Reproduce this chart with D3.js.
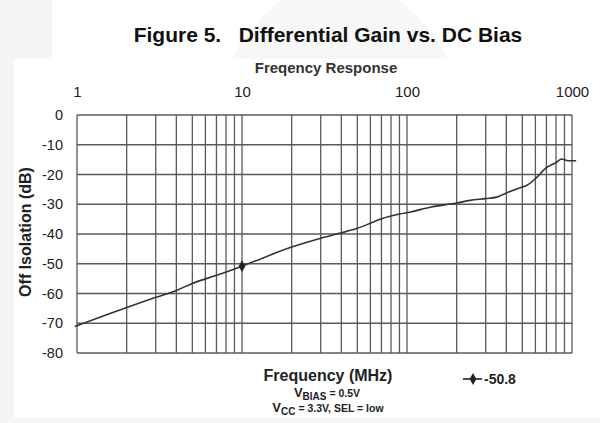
<!DOCTYPE html>
<html>
<head>
<meta charset="utf-8">
<script src="https://cdn.jsdelivr.net/npm/d3@7"></script>
<style>
  body { margin: 0; background: #fff; }
  svg { display: block; font-family: "Liberation Sans", Arial, sans-serif; }
</style>
</head>
<body>
<svg id="chart" width="600" height="423"></svg>
<script>
// measured curve (MHz, dB)
const freqs = [0.97, 2, 3, 4, 5, 7, 10, 20, 30, 40, 50, 60, 70, 90, 105, 138, 200, 241, 300, 350, 400, 500, 531, 600, 700, 800, 866, 900, 950, 1000, 1060];
const isolation = [-71.1, -64.7, -61.3, -59.0, -56.6, -53.9, -50.8, -44.4, -41.4, -39.6, -38.1, -36.4, -34.9, -33.3, -32.6, -31.0, -29.6, -28.7, -28.1, -27.6, -26.2, -24.2, -23.7, -21.4, -17.7, -16.0, -14.8, -15.0, -15.4, -15.4, -15.4];
const marker = { f: 10, v: -50.8 };
const freqTicks = [1, 10, 100, 1000];
const dbTicks = [-80, -70, -60, -50, -40, -30, -20, -10, 0];
const decades = [1, 10, 100];
const mults = [1, 2, 3, 4, 5, 6, 7, 8, 9];

const svg = d3.select('#chart');
const font = '"Liberation Sans", Arial, sans-serif';

// page background bits
svg.append('rect').attr('width', 600).attr('height', 423).attr('fill', '#f5f5f5');
svg.append('rect').attr('x', 14).attr('y', 59).attr('width', 586).attr('height', 359).attr('fill', '#fff');
svg.append('rect').attr('x', 52).attr('y', 0).attr('width', 548).attr('height', 59).attr('fill', '#fff');
svg.append('clipPath').attr('id', 'topclip').append('rect').attr('x', 52).attr('y', 0).attr('width', 548).attr('height', 59);
svg.append('ellipse').attr('cx', 340).attr('cy', 240).attr('rx', 150).attr('ry', 260)
  .attr('fill', '#f7f7f7').attr('clip-path', 'url(#topclip)');

const x = d3.scaleLog().domain([1, 1000]).range([77, 572]);
const y = d3.scaleLinear().domain([-80, 0]).range([353, 115]);

// grid
const vLines = [];
decades.forEach(d => mults.forEach(m => vLines.push(d * m)));
vLines.push(1000);

const grid = svg.append('g').attr('stroke', '#5a5a5a').attr('stroke-width', 1.3);
grid.selectAll('.v').data(vLines).enter().append('line')
  .attr('x1', d => x(d)).attr('x2', d => x(d))
  .attr('y1', y(0)).attr('y2', y(-80));
grid.selectAll('.h').data(dbTicks).enter().append('line')
  .attr('x1', x(1)).attr('x2', x(1000))
  .attr('y1', d => y(d)).attr('y2', d => y(d));

// axes
const topAxis = svg.append('g').attr('transform', `translate(0,${y(0)})`)
  .call(d3.axisTop(x).tickValues(freqTicks).tickFormat(d => String(d)).tickSize(0).tickPadding(18));
topAxis.select('.domain').remove();
topAxis.selectAll('text').attr('font-size', 15).attr('fill', '#222').attr('font-family', font);

const leftAxis = svg.append('g').attr('transform', `translate(${x(1)},0)`)
  .call(d3.axisLeft(y).tickValues(dbTicks).tickFormat(d => String(d)).tickSize(0).tickPadding(14));
leftAxis.select('.domain').remove();
leftAxis.selectAll('text').attr('font-size', 14.5).attr('fill', '#222').attr('font-family', font);

// curve
const line = d3.line()
  .x((d, i) => x(freqs[i]))
  .y(d => y(d))
  .curve(d3.curveMonotoneX);

svg.append('path').datum(isolation)
  .attr('fill', 'none').attr('stroke', '#333').attr('stroke-width', 1.6)
  .attr('d', line);

const diamond = d3.symbol().type(d3.symbolDiamond).size(40);
svg.append('path').attr('d', diamond)
  .attr('transform', `translate(${x(marker.f)},${y(marker.v)})`)
  .attr('fill', '#222');

// titles
svg.append('text').attr('x', 328).attr('y', 42).attr('text-anchor', 'middle')
  .attr('font-size', 21).attr('font-weight', 'bold').attr('fill', '#111')
  .attr('xml:space', 'preserve')
  .text('Figure 5.   Differential Gain vs. DC Bias');

svg.append('text').attr('x', 326).attr('y', 73).attr('text-anchor', 'middle')
  .attr('font-size', 15).attr('font-weight', 'bold').attr('fill', '#333')
  .text('Freqency Response');

svg.append('text').attr('transform', 'translate(31,232) rotate(-90)')
  .attr('text-anchor', 'middle').attr('font-size', 16).attr('font-weight', 'bold').attr('fill', '#222')
  .text('Off Isolation (dB)');

svg.append('text').attr('x', 328).attr('y', 381).attr('text-anchor', 'middle')
  .attr('font-size', 16).attr('font-weight', 'bold').attr('fill', '#222')
  .text('Frequency (MHz)');

const vb = svg.append('text').attr('x', 327).attr('y', 397).attr('text-anchor', 'middle')
  .attr('font-weight', 'bold').attr('fill', '#222');
vb.append('tspan').attr('font-size', 13).text('V');
vb.append('tspan').attr('font-size', 10).attr('dy', 3).text('BIAS');
vb.append('tspan').attr('font-size', 10.5).attr('dy', -3).text(' = 0.5V');

const vc = svg.append('text').attr('x', 328).attr('y', 412).attr('text-anchor', 'middle')
  .attr('font-weight', 'bold').attr('fill', '#222');
vc.append('tspan').attr('font-size', 13).text('V');
vc.append('tspan').attr('font-size', 10).attr('dy', 3).text('CC');
vc.append('tspan').attr('font-size', 10.5).attr('dy', -3).text(' = 3.3V, SEL = low');

// legend
const lg = svg.append('g').attr('transform', 'translate(463,379)');
lg.append('line').attr('x1', 0).attr('x2', 19).attr('stroke', '#222').attr('stroke-width', 1.6);
lg.append('path').attr('d', diamond).attr('transform', 'translate(10,0)').attr('fill', '#222');
lg.append('text').attr('x', 21).attr('y', 5).attr('font-size', 14).attr('font-weight', 'bold').attr('fill', '#222')
  .text('-50.8');
</script>
</body>
</html>
